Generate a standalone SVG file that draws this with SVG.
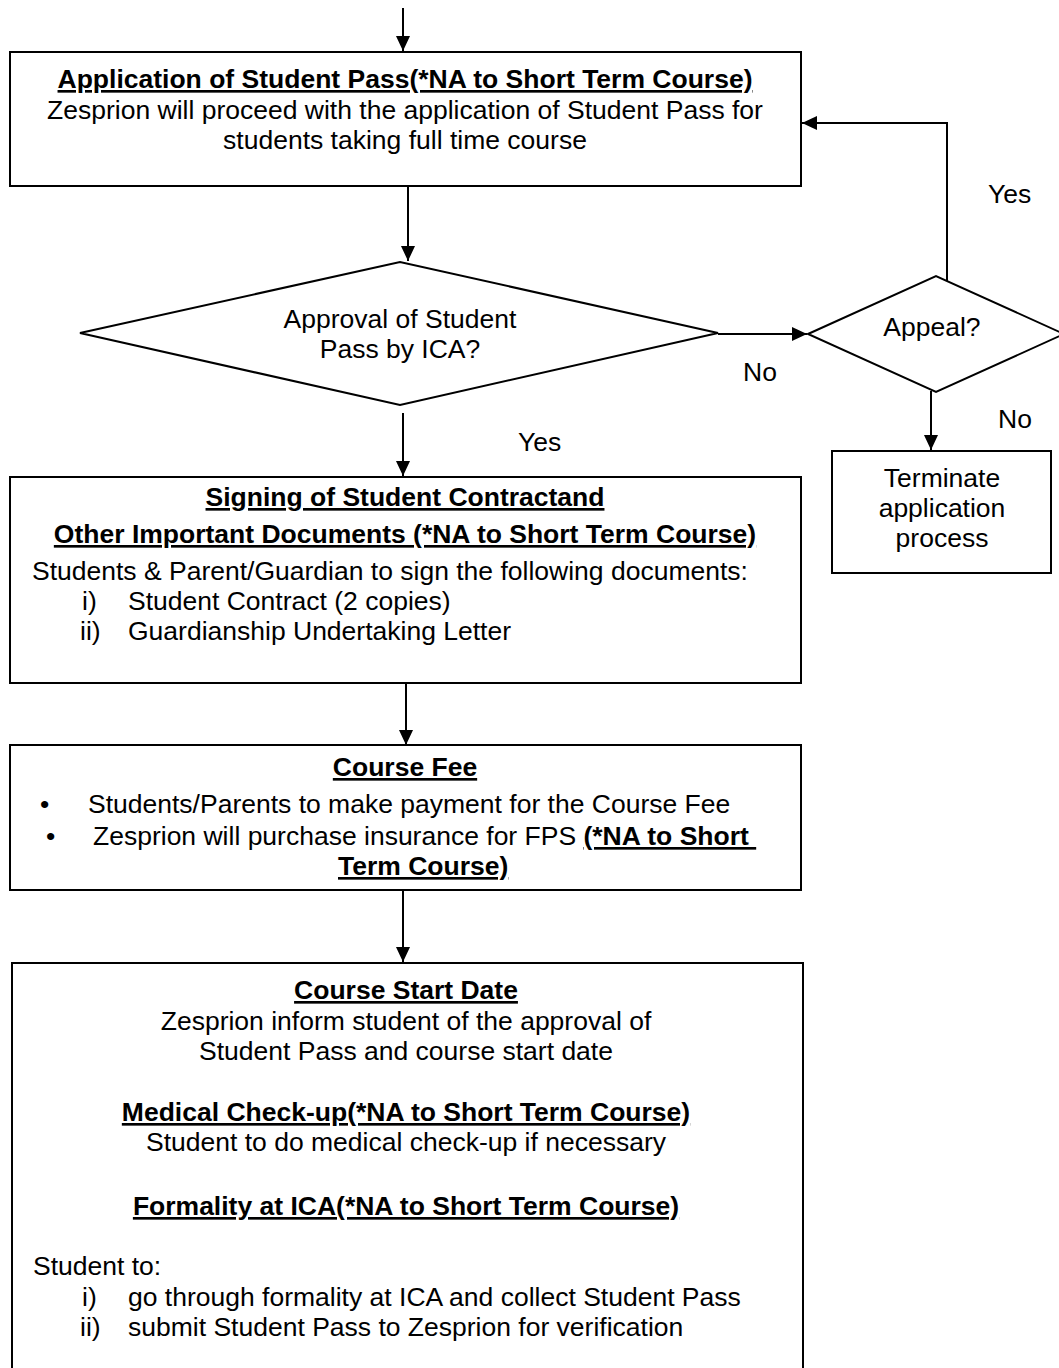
<svg xmlns="http://www.w3.org/2000/svg" width="1059" height="1368" viewBox="0 0 1059 1368">
<defs>
<style>
text{font-family:"Liberation Sans",Arial,sans-serif;font-size:26.5px;fill:#000}
.c{text-anchor:middle}
.b{font-weight:bold;text-decoration:underline}
.box{fill:#fff;stroke:#000;stroke-width:2}
.ln{fill:none;stroke:#000;stroke-width:2}
</style>
<marker id="ah" markerUnits="userSpaceOnUse" markerWidth="16" markerHeight="16" refX="15" refY="7" orient="auto">
<path d="M0,0 L15,7 L0,14 z" fill="#000"/>
</marker>
</defs>
<rect width="1059" height="1368" fill="#fff"/>

<g id="connectors">
<line class="ln" x1="403" y1="8" x2="403" y2="51" marker-end="url(#ah)"/>
<line class="ln" x1="408" y1="186" x2="408" y2="261" marker-end="url(#ah)"/>
<line class="ln" x1="718" y1="334" x2="807" y2="334" marker-end="url(#ah)"/>
<polyline class="ln" points="947,281 947,123 802,123" marker-end="url(#ah)"/>
<line class="ln" x1="931" y1="391" x2="931" y2="450" marker-end="url(#ah)"/>
<line class="ln" x1="403" y1="413" x2="403" y2="476" marker-end="url(#ah)"/>
<line class="ln" x1="406" y1="683" x2="406" y2="745" marker-end="url(#ah)"/>
<line class="ln" x1="403" y1="890" x2="403" y2="962" marker-end="url(#ah)"/>
<text x="743" y="381">No</text>
<text x="518" y="451">Yes</text>
<text x="988" y="203">Yes</text>
<text x="998" y="428">No</text>
</g>

<g id="application">
<rect class="box" x="10" y="52" width="791" height="134"/>
<text class="c b" x="405" y="88">Application of Student Pass(*NA to Short Term Course)</text>
<text class="c" x="405" y="119">Zesprion will proceed with the application of Student Pass for</text>
<text class="c" x="405" y="149">students taking full time course</text>
</g>

<g id="approval">
<polygon class="box" points="80,333 400,262 718,333 400,405"/>
<text class="c" x="400" y="328">Approval of Student</text>
<text class="c" x="400" y="358">Pass by ICA?</text>
</g>

<g id="appeal">
<polygon class="box" points="808,334 936,276 1064,334 936,392"/>
<text class="c" x="932" y="336">Appeal?</text>
</g>

<g id="terminate">
<rect class="box" x="832" y="451" width="219" height="122"/>
<text class="c" x="942" y="487">Terminate</text>
<text class="c" x="942" y="517">application</text>
<text class="c" x="942" y="547">process</text>
</g>

<g id="signing">
<rect class="box" x="10" y="477" width="791" height="206"/>
<text class="c b" x="405" y="506">Signing of Student Contractand</text>
<text class="c b" x="405" y="543">Other Important Documents (*NA to Short Term Course)</text>
<text x="32" y="580">Students &amp; Parent/Guardian to sign the following documents:</text>
<text x="82" y="610">i)</text>
<text x="128" y="610">Student Contract (2 copies)</text>
<text x="80" y="640">ii)</text>
<text x="128" y="640">Guardianship Undertaking Letter</text>
</g>

<g id="coursefee">
<rect class="box" x="10" y="745" width="791" height="145"/>
<text class="c b" x="405" y="776">Course Fee</text>
<text x="40" y="813">•</text>
<text x="88" y="813">Students/Parents to make payment for the Course Fee</text>
<text x="46" y="845">•</text>
<text x="93" y="845">Zesprion will purchase insurance for FPS <tspan class="b">(*NA to Short&#160;</tspan></text>
<text class="b" x="338" y="875">Term Course)</text>
</g>

<g id="startdate">
<rect class="box" x="12" y="963" width="791" height="420"/>
<text class="c b" x="406" y="999">Course Start Date</text>
<text class="c" x="406" y="1030">Zesprion inform student of the approval of</text>
<text class="c" x="406" y="1060">Student Pass and course start date</text>
<text class="c b" x="406" y="1121">Medical Check-up(*NA to Short Term Course)</text>
<text class="c" x="406" y="1151">Student to do medical check-up if necessary</text>
<text class="c b" x="406" y="1215">Formality at ICA(*NA to Short Term Course)</text>
<text x="33" y="1275">Student to:</text>
<text x="82" y="1306">i)</text>
<text x="128" y="1306">go through formality at ICA and collect Student Pass</text>
<text x="80" y="1336">ii)</text>
<text x="128" y="1336">submit Student Pass to Zesprion for verification</text>
</g>
</svg>
